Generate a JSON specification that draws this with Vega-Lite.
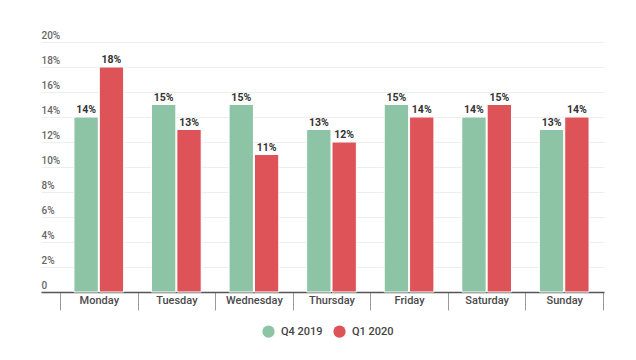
{
  "$schema": "https://vega.github.io/schema/vega-lite/v6.json",
  "width": 563,
  "height": 250,
  "autosize": {"type": "none"},
  "padding": {"left": 41, "top": 42, "right": 32, "bottom": 68},
  "background": "white",
  "config": {
    "view": {"stroke": null},
    "font": "Roboto",
    "axis": {"labelFont": "Roboto", "labelColor": "#555555"}
  },
  "data": {
    "values": [
      {"day": "Monday", "period": "Q4 2019", "value": 14},
      {"day": "Monday", "period": "Q1 2020", "value": 18},
      {"day": "Tuesday", "period": "Q4 2019", "value": 15},
      {"day": "Tuesday", "period": "Q1 2020", "value": 13},
      {"day": "Wednesday", "period": "Q4 2019", "value": 15},
      {"day": "Wednesday", "period": "Q1 2020", "value": 11},
      {"day": "Thursday", "period": "Q4 2019", "value": 13},
      {"day": "Thursday", "period": "Q1 2020", "value": 12},
      {"day": "Friday", "period": "Q4 2019", "value": 15},
      {"day": "Friday", "period": "Q1 2020", "value": 14},
      {"day": "Saturday", "period": "Q4 2019", "value": 14},
      {"day": "Saturday", "period": "Q1 2020", "value": 15},
      {"day": "Sunday", "period": "Q4 2019", "value": 13},
      {"day": "Sunday", "period": "Q1 2020", "value": 14}
    ]
  },
  "encoding": {
    "x": {
      "field": "day",
      "type": "nominal",
      "sort": null,
      "scale": {"paddingInner": 0, "paddingOuter": 0.129, "align": 0.95},
      "axis": {
        "title": null,
        "labelAngle": 0,
        "tickBand": "extent",
        "tickSize": 18,
        "tickColor": "#999999",
        "tickWidth": 1,
        "domainColor": "#555555",
        "domainWidth": 1.5,
        "labelFontSize": 11,
        "labelPadding": -10,
        "labelBaseline": "middle",
        "labelFontWeight": 500,
        "labelColor": "#4a4a4a"
      }
    },
    "xOffset": {
      "field": "period",
      "sort": ["Q4 2019", "Q1 2020"],
      "scale": {"paddingInner": 0.04, "paddingOuter": 0.55}
    },
    "y": {
      "field": "value",
      "type": "quantitative",
      "scale": {"domain": [0, 20]},
      "axis": {
        "title": null,
        "values": [0, 2, 4, 6, 8, 10, 12, 14, 16, 18, 20],
        "labelExpr": "datum.value == 0 ? '0' : datum.value + '%'",
        "ticks": false,
        "domain": false,
        "gridColor": "#eeeeee",
        "gridWidth": 1,
        "labelAlign": "left",
        "labelPadding": 0,
        "labelBaseline": "bottom",
        "labelOffset": -2,
        "labelFontSize": 10,
        "labelFontWeight": 500,
        "labelColor": "#666666"
      }
    }
  },
  "layer": [
    {
      "mark": {"type": "bar", "stroke": "white", "strokeWidth": 1},
      "encoding": {
        "color": {
          "field": "period",
          "type": "nominal",
          "sort": ["Q4 2019", "Q1 2020"],
          "scale": {"domain": ["Q4 2019", "Q1 2020"], "range": ["#8dc4a6", "#dd5357"]},
          "legend": {
            "title": null,
            "orient": "none",
            "direction": "horizontal",
            "legendX": 221,
            "legendY": 283,
            "symbolType": "circle",
            "symbolSize": 150,
            "symbolStrokeWidth": 0,
            "labelFontSize": 11,
            "labelFontWeight": 500,
            "labelColor": "#444444",
            "columnPadding": 10,
            "labelOffset": 6
          }
        }
      }
    },
    {
      "transform": [{"calculate": "datum.value + '%'", "as": "label"}],
      "mark": {"type": "text", "dy": -7, "fontSize": 10.5, "fontWeight": "bold", "color": "#333333"},
      "encoding": {
        "text": {"field": "label", "type": "nominal"},
        "detail": {"field": "period"}
      }
    }
  ]
}
